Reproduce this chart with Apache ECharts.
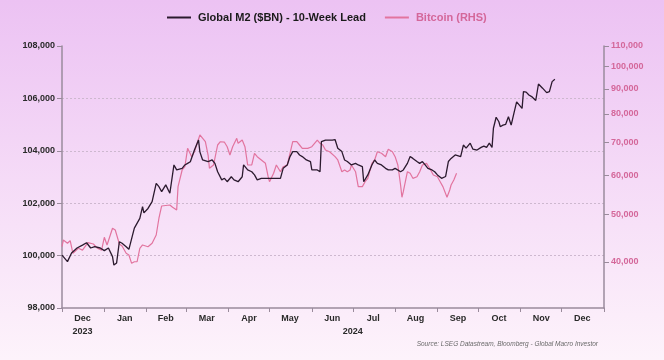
<!DOCTYPE html>
<html>
<head>
<meta charset="utf-8">
<script src="https://cdn.jsdelivr.net/npm/echarts@6/dist/echarts.min.js"></script>
<style>
html,body{margin:0;padding:0;}
#c{width:664px;height:360px;}
</style>
</head>
<body>
<div id="c"></div>
<script>
const m2Name = 'Global M2 ($BN) - 10-Week Lead';
const btcName = 'Bitcoin (RHS)';

const m2Dates = ['2023-12-01','2023-12-05','2023-12-08','2023-12-12','2023-12-16','2023-12-19','2023-12-22','2023-12-25','2023-12-29',
'2024-01-01','2024-01-04','2024-01-07','2024-01-08','2024-01-10','2024-01-12','2024-01-14','2024-01-17','2024-01-19','2024-01-22','2024-01-23','2024-01-27','2024-01-29','2024-01-30',
'2024-02-02','2024-02-05','2024-02-08','2024-02-10','2024-02-12','2024-02-15','2024-02-18','2024-02-21','2024-02-23','2024-02-27','2024-02-29',
'2024-03-02','2024-03-04','2024-03-07','2024-03-10','2024-03-11','2024-03-13','2024-03-17','2024-03-20','2024-03-22','2024-03-24','2024-03-27','2024-03-29','2024-03-31',
'2024-04-03','2024-04-05','2024-04-08','2024-04-11','2024-04-12','2024-04-15','2024-04-18','2024-04-20','2024-04-22','2024-04-25','2024-04-28',
'2024-05-01','2024-05-05','2024-05-09','2024-05-11','2024-05-14','2024-05-16','2024-05-18','2024-05-21','2024-05-23','2024-05-25','2024-05-28','2024-05-31',
'2024-06-01','2024-06-05','2024-06-07','2024-06-08','2024-06-11','2024-06-12','2024-06-16','2024-06-18','2024-06-20','2024-06-23','2024-06-25','2024-06-27','2024-06-30',
'2024-07-03','2024-07-05','2024-07-08','2024-07-09','2024-07-10','2024-07-12','2024-07-15','2024-07-17','2024-07-19','2024-07-22','2024-07-25','2024-07-27','2024-07-30',
'2024-08-01','2024-08-05','2024-08-07','2024-08-10','2024-08-12','2024-08-14','2024-08-17','2024-08-19','2024-08-21','2024-08-23','2024-08-25','2024-08-28','2024-08-30',
'2024-09-01','2024-09-04','2024-09-07','2024-09-09','2024-09-11','2024-09-14','2024-09-18','2024-09-20','2024-09-22','2024-09-25','2024-09-27','2024-09-30',
'2024-10-03','2024-10-05','2024-10-07','2024-10-09','2024-10-11','2024-10-12','2024-10-14','2024-10-16','2024-10-17','2024-10-19','2024-10-21','2024-10-23','2024-10-25','2024-10-27','2024-10-29',
'2024-11-02','2024-11-03','2024-11-05','2024-11-07','2024-11-09','2024-11-12','2024-11-14','2024-11-17','2024-11-20','2024-11-22','2024-11-24','2024-11-26'];

const m2Values = [100020,99770,100100,100290,100400,100490,100290,100340,100290,
100190,100290,99960,99640,99720,100530,100470,100340,100240,100850,101050,101420,101870,101630,
101800,102060,102760,102630,102440,102700,102380,103460,103270,103330,103460,
103520,103580,104030,104410,103960,103650,103590,103650,103520,103200,102890,102950,102820,
103010,102890,102820,103010,103460,103270,103200,103080,102890,102950,102950,
102950,102950,102950,103330,103460,103780,103970,103970,103840,103780,103650,103590,
103270,103270,103200,104350,104410,104410,104410,104430,104100,103970,103650,103590,103460,
103520,103460,103400,102820,102890,103080,103460,103650,103520,103460,103330,103270,103270,
103330,103200,103270,103520,103780,103710,103590,103520,103590,103460,103330,103270,103200,
103080,102950,103020,103590,103710,103840,103780,104220,104100,104290,104060,104030,
104130,104180,104130,104290,104130,104860,105280,105110,104920,104980,105010,105300,104980,105430,105870,
105620,106260,106240,106130,106070,105920,106550,106390,106220,106260,106640,106730];

const btcDates = ['2023-12-01','2023-12-02','2023-12-05','2023-12-07','2023-12-09','2023-12-13','2023-12-16','2023-12-20','2023-12-24','2023-12-27','2023-12-30',
'2024-01-01','2024-01-03','2024-01-07','2024-01-09','2024-01-12','2024-01-14','2024-01-17','2024-01-19','2024-01-21','2024-01-23','2024-01-25','2024-01-27','2024-01-29',
'2024-02-02','2024-02-05','2024-02-08','2024-02-10','2024-02-12','2024-02-18','2024-02-20','2024-02-23','2024-02-24','2024-02-27','2024-02-29',
'2024-03-02','2024-03-05','2024-03-07','2024-03-11','2024-03-12','2024-03-15','2024-03-17','2024-03-18','2024-03-21','2024-03-24','2024-03-26','2024-03-29','2024-03-31',
'2024-04-02','2024-04-04','2024-04-07','2024-04-08','2024-04-11','2024-04-13','2024-04-15','2024-04-18','2024-04-20','2024-04-22','2024-04-25','2024-04-28','2024-04-30',
'2024-05-01','2024-05-04','2024-05-06','2024-05-09','2024-05-11','2024-05-14','2024-05-16','2024-05-18','2024-05-21','2024-05-23','2024-05-25','2024-05-29',
'2024-06-01','2024-06-05','2024-06-07','2024-06-09','2024-06-11','2024-06-14','2024-06-18','2024-06-20','2024-06-23','2024-06-25','2024-06-27','2024-06-29','2024-06-30',
'2024-07-03','2024-07-05','2024-07-08','2024-07-10','2024-07-12','2024-07-15','2024-07-17','2024-07-19','2024-07-22','2024-07-25','2024-07-27','2024-07-30',
'2024-08-01','2024-08-03','2024-08-05','2024-08-06','2024-08-07','2024-08-08','2024-08-10','2024-08-12','2024-08-14','2024-08-17','2024-08-19','2024-08-21','2024-08-24','2024-08-27','2024-08-29',
'2024-09-01','2024-09-03','2024-09-05','2024-09-08','2024-09-10','2024-09-11','2024-09-13','2024-09-15'];

const btcValues = [42970,44340,43670,44200,41670,42650,42300,43790,43520,42650,42300,
44910,43320,46840,46470,43530,43120,41670,41340,39750,40050,40050,42650,43320,
42970,43670,45390,49100,52000,52240,51690,51030,56930,61550,62500,
68120,65510,67040,72510,72850,70260,66020,62040,63010,69190,70260,70100,68640,
66020,68640,71400,69730,70800,68640,63010,63010,66550,65510,64500,63500,59640,
58260,60600,63010,61060,62500,63010,66550,70260,70260,69190,68120,68120,
68640,70800,69730,69190,67590,67040,65510,64500,61060,61550,61060,61550,63010,
61060,56930,56930,58260,59190,63500,64500,67040,66550,65510,67810,67040,
65510,63010,57370,54160,55610,56040,61060,60600,59190,59640,61060,63010,63500,61550,60110,
59640,58260,56930,54160,56040,57370,58730,60600];

const leftTicks = [98000, 100000, 102000, 104000, 106000, 108000];
const rightTicks = [40000, 50000, 60000, 70000, 80000, 90000, 100000, 110000];
const rightMin = 32250, rightMax = 110000;
const xStart = '2023-12-01', xEnd = '2025-01-01';
const monthTicks = ['2023-12-01','2024-01-01','2024-02-01','2024-03-01','2024-04-01','2024-05-01','2024-06-01','2024-07-01','2024-08-01','2024-09-01','2024-10-01','2024-11-01','2024-12-01','2025-01-01'];
const monthLabelDates = ['2023-12-16','2024-01-16','2024-02-15','2024-03-16','2024-04-16','2024-05-16','2024-06-16','2024-07-16','2024-08-16','2024-09-16','2024-10-16','2024-11-16','2024-12-16'];
const monthNames = ['Jan','Feb','Mar','Apr','May','Jun','Jul','Aug','Sep','Oct','Nov','Dec'];
const yearLabelDates = ['2023-12-16','2024-07-01'];

function comma(n){ return String(n).replace(/\B(?=(\d{3})+(?!\d))/g, ','); }
const ts = d => Date.parse(d + 'T00:00:00Z');

const FONT = "'Liberation Sans', Arial, sans-serif";
const axisGrey = '#9a8b9c';
const m2Color = '#2b1a2e';
const btcColor = '#e2749f';

const chart = echarts.init(document.getElementById('c'), null, {renderer:'canvas'});
chart.setOption({
  backgroundColor: new echarts.graphic.LinearGradient(0,0,0,1,[
    {offset:0, color:'#ecc2f3'},
    {offset:0.5, color:'#f5dbf7'},
    {offset:1, color:'#fdf3fb'}
  ]),
  animation:false,
  textStyle:{fontFamily:FONT},
  legend:{
    top:7, left:162, itemWidth:24, itemHeight:2, itemGap:19, icon:'rect',
    textStyle:{fontFamily:FONT, fontSize:11, fontWeight:'bold', color:'#1a1a1a', padding:[0,0,0,2]},
    data:[
      {name:m2Name, itemStyle:{color:m2Color}},
      {name:btcName, itemStyle:{color:btcColor}, textStyle:{color:'#d4679a'}}
    ]
  },
  grid:{left:62, right:60, top:46, bottom:52},
  xAxis:[{
    type:'value', min:ts(xStart), max:ts(xEnd),
    axisLine:{lineStyle:{color:axisGrey, width:1.5}},
    axisTick:{show:true, length:4, customValues:monthTicks.map(ts), lineStyle:{color:axisGrey}},
    splitLine:{show:false},
    axisLabel:{customValues:monthLabelDates.map(ts), margin:6, fontSize:9, fontWeight:'bold', color:'#2a2a2a', fontFamily:FONT,
      formatter:function(v){ return monthNames[new Date(v).getUTCMonth()]; }}
  },{
    type:'value', min:ts(xStart), max:ts(xEnd), position:'bottom', offset:13,
    axisLine:{show:false}, axisTick:{show:false}, splitLine:{show:false},
    axisLabel:{customValues:yearLabelDates.map(ts), margin:6, fontSize:9, fontWeight:'bold', color:'#2a2a2a', fontFamily:FONT,
      formatter:function(v){ return String(new Date(v).getUTCFullYear()); }}
  }],
  yAxis:[{
    type:'value', min:leftTicks[0], max:leftTicks[leftTicks.length-1], interval:2000,
    axisLine:{show:true, lineStyle:{color:axisGrey, width:1.5}},
    axisTick:{show:true, length:5, lineStyle:{color:axisGrey}},
    splitLine:{show:true, showMaxLine:false, showMinLine:false, lineStyle:{color:'#cdb8cf', type:[2,2], width:1}},
    axisLabel:{margin:7, fontSize:9, fontWeight:'bold', color:'#2a2a2a', fontFamily:FONT,
      formatter:function(v){ return comma(v); }}
  },{
    type:'value', position:'right', min:Math.log10(rightMin), max:Math.log10(rightMax),
    axisLine:{show:true, lineStyle:{color:axisGrey, width:1.5}},
    axisTick:{show:true, length:5, customValues:rightTicks.map(v=>Math.log10(v)), lineStyle:{color:axisGrey}},
    splitLine:{show:false},
    axisLabel:{customValues:rightTicks.map(v=>Math.log10(v)), margin:7, fontSize:9, fontWeight:'bold', color:'#d4679a', fontFamily:FONT,
      formatter:function(v){ return comma(Math.round(Math.pow(10,v)/1000)*1000); }}
  }],
  series:[{
    name:btcName, type:'line', xAxisIndex:0, yAxisIndex:1, showSymbol:false, z:2,
    lineStyle:{color:btcColor, width:1.2}, itemStyle:{color:btcColor},
    data:btcDates.map((d,i)=>[ts(d), Math.log10(btcValues[i])])
  },{
    name:m2Name, type:'line', xAxisIndex:0, yAxisIndex:0, showSymbol:false, z:3,
    lineStyle:{color:m2Color, width:1.3}, itemStyle:{color:m2Color},
    data:m2Dates.map((d,i)=>[ts(d), m2Values[i]])
  }],
  graphic:[{
    type:'text', right:66, top:341,
    style:{text:'Source: LSEG Datastream, Bloomberg - Global Macro Investor', fill:'#6a6a6a',
      font:"italic 6.5px 'Liberation Sans', Arial, sans-serif"}
  }]
});
</script>
</body>
</html>
